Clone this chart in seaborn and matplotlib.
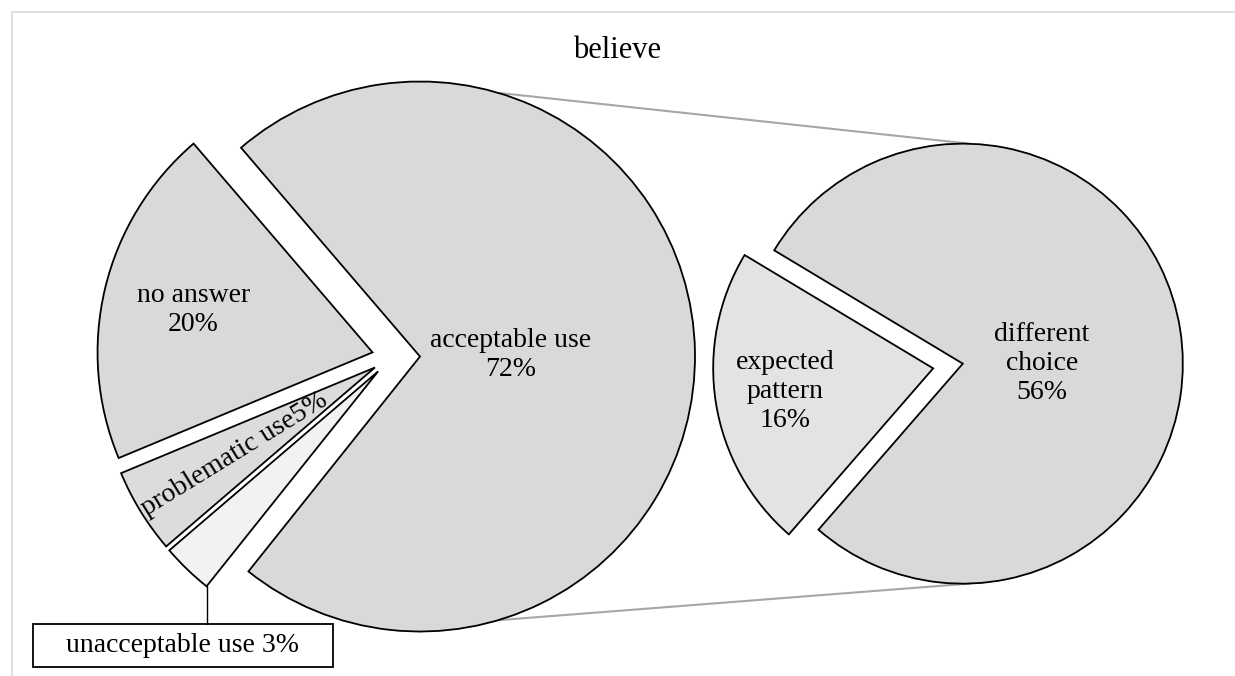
import numpy as np
import matplotlib.pyplot as plt
import seaborn as sns
from matplotlib.patches import Rectangle

# datos del grafico (pie of pie)
titulo = "believe"
left_labels = ["acceptable use", "no answer", "problematic use", "unacceptable use"]
left_values = [72, 20, 5, 3]
right_labels = ["different choice", "expected pattern"]
right_values = [56, 16]

left_colors = ["#d9d9d9", "#d9d9d9", "#dcdcdc", "#f2f2f2"]
right_colors = ["#d9d9d9", "#e3e3e3"]

sns.set_theme(style="white")
plt.rcParams["font.family"] = ["Liberation Serif", "DejaVu Serif"]
plt.rcParams["text.color"] = "black"

fig = plt.figure(figsize=(12.35, 6.76), dpi=100)
ax = fig.add_axes([0, 0, 1, 1])

H = 676
edge = dict(edgecolor="black", linewidth=1.3)

# pie principal (explode en unidades de datos = pixeles)
r1 = 275
w1, _ = ax.pie(left_values, colors=left_colors, radius=r1, center=(392, H - 357),
               startangle=-128.6, counterclock=True, explode=[28, 20, 20, 20],
               wedgeprops=edge, frame=True)

# pie secundario
r2 = 220
w2, _ = ax.pie(right_values, colors=right_colors, radius=r2, center=(948, H - 366),
               startangle=229, counterclock=True, explode=[15, 15],
               wedgeprops=edge, frame=True)

def punto(w, ang, frac):
    cx, cy = w.center
    a = np.deg2rad(ang)
    return cx + frac * w.r * np.cos(a), cy + frac * w.r * np.sin(a)

def mitad(w):
    return (w.theta1 + w.theta2) / 2

# etiquetas
fs = 20
x, y = punto(w1[0], mitad(w1[0]), 0.33)
ax.text(x, y, f"{left_labels[0]}\n{left_values[0]}%", ha="center", va="center", fontsize=fs)
x, y = punto(w1[1], mitad(w1[1]), 0.67)
ax.text(x, y, f"{left_labels[1]}\n{left_values[1]}%", ha="center", va="center", fontsize=fs)
x, y = punto(w1[2], mitad(w1[2]), 0.6)
ax.text(x, y, f"{left_labels[2]}{left_values[2]}%", ha="center", va="center", fontsize=fs,
        rotation=mitad(w1[2]) - 180, rotation_mode="anchor")

x, y = punto(w2[0], mitad(w2[0]) - 9, 0.36)
ax.text(x, y, "different\nchoice\n" + f"{right_values[0]}%", ha="center", va="center", fontsize=fs)
x, y = punto(w2[1], mitad(w2[1]), 0.68)
ax.text(x, y, "expected\npattern\n" + f"{right_values[1]}%", ha="center", va="center", fontsize=fs)

# etiqueta con caja para unacceptable use
x0, y0 = punto(w1[3], w1[3].theta2, 1.0)
ax.plot([x0, x0], [y0, H - 624], color="black", lw=1)
ax.add_patch(Rectangle((33, H - 667), 300, 43, facecolor="white", edgecolor="black", lw=1.3))
ax.text(183, H - 645, f"{left_labels[3]} {left_values[3]}%", ha="center", va="center", fontsize=fs)

# lineas de conexion
for s in [1, -1]:
    xa, ya = punto(w1[0], s * 73.5, 1.0)
    xb, yb = punto(w2[0], s * 88, 1.0)
    ax.plot([xa, xb], [ya, yb], color="#a6a6a6", lw=1.5, zorder=0)

ax.text(617, H - 50, titulo, ha="center", va="center", fontsize=22)

# marco del grafico
ax.add_patch(Rectangle((12, -20), 1260, H - 12 + 20, fill=False, edgecolor="#d9d9d9", lw=1.2, clip_on=False))

ax.set_xlim(0, 1235)
ax.set_ylim(0, H)
ax.set_aspect("equal")
ax.axis("off")

plt.savefig("out.png", dpi=100)
